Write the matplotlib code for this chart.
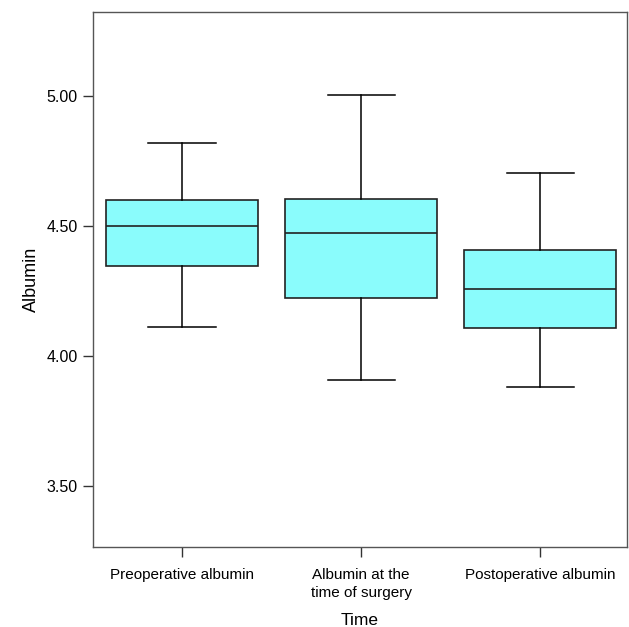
import matplotlib
matplotlib.use("Agg")
import matplotlib.pyplot as plt

plt.rcParams['font.family'] = ['Liberation Sans', 'DejaVu Sans']

## -----------------------------------------------
# data
## -----------------------------------------------
groups = ["Preoperative albumin", "Albumin at the\ntime of surgery", "Postoperative albumin"]
whisker_low = [4.11, 3.905, 3.878]
q1 = [4.344, 4.222, 4.108]
medians = [4.50, 4.472, 4.258]
q3 = [4.60, 4.603, 4.407]
whisker_high = [4.82, 5.003, 4.703]
y_ticks = [3.50, 4.00, 4.50, 5.00]

stats = []
for i in range(len(groups)):
    stats.append(dict(label=groups[i], whislo=whisker_low[i], q1=q1[i], med=medians[i],
                      q3=q3[i], whishi=whisker_high[i], fliers=[]))

fig = plt.figure(figsize=(6.29, 6.27), dpi=100)
ax = fig.add_axes([0.148, 0.128, 0.849, 0.853])

edge = '#222222'
ax.bxp(stats, positions=range(len(groups)), widths=0.845, patch_artist=True,
       showfliers=False,
       boxprops=dict(facecolor='#8afcfc', edgecolor=edge, linewidth=1.2),
       medianprops=dict(color=edge, linewidth=1.2),
       whiskerprops=dict(color='black', linewidth=1.1),
       capprops=dict(color='black', linewidth=1.1),
       capwidths=0.375)

ax.set_xlim(-0.497, 2.486)
ax.set_ylim(3.264, 5.325)
ax.set_yticks(y_ticks)
ax.set_yticklabels([f"{v:.2f}" for v in y_ticks], fontsize=11.5)
ax.set_xticks(range(len(groups)))
ax.set_xticklabels(groups, linespacing=1.3, fontsize=11)

for s in ax.spines.values():
    s.set_color('#555555')
    s.set_linewidth(1.0)
ax.tick_params(axis='both', direction='out', length=7.5, width=1.0, color='#333333',
               labelcolor='black')
ax.tick_params(axis='y', pad=3.5)
ax.tick_params(axis='x', pad=8)

ax.set_ylabel("Albumin", fontsize=13, labelpad=5)
ax.set_xlabel("Time", fontsize=12.5, labelpad=10)

fig.savefig("out.png", dpi=100)
